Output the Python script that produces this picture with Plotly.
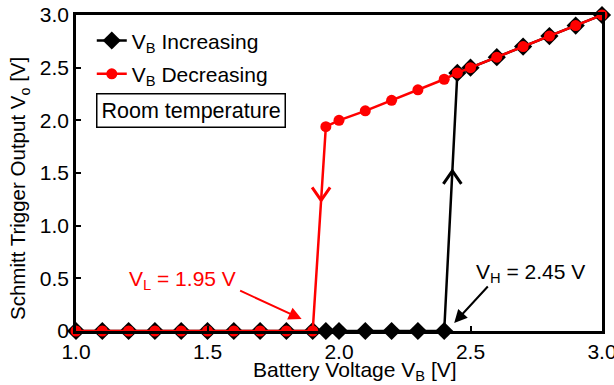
import plotly.graph_objects as go

# Data
inc_x = [1.0, 1.1, 1.2, 1.3, 1.4, 1.5, 1.6, 1.7, 1.8, 1.9, 1.95, 2.0, 2.1, 2.2, 2.3, 2.4,
         2.45, 2.5, 2.6, 2.7, 2.8, 2.9, 3.0]
inc_y = [0, 0, 0, 0, 0, 0, 0, 0, 0, 0, 0, 0, 0, 0, 0, 0,
         2.45, 2.5, 2.6, 2.7, 2.8, 2.9, 3.0]
dec_x = [3.0, 2.9, 2.8, 2.7, 2.6, 2.5, 2.45, 2.4, 2.3, 2.2, 2.1, 2.0, 1.95,
         1.9, 1.8, 1.7, 1.6, 1.5, 1.4, 1.3, 1.2, 1.1, 1.0]
dec_y = [3.0, 2.9, 2.8, 2.7, 2.6, 2.5, 2.45, 2.39, 2.29, 2.19, 2.09, 2.0, 1.94,
         0, 0, 0, 0, 0, 0, 0, 0, 0, 0]

x_ticks = [1.0, 1.5, 2.0, 2.5, 3.0]
x_ticktext = ["1.0", "1.5", "2.0", "2.5", "3.0"]
y_ticks = [0, 0.5, 1.0, 1.5, 2.0, 2.5, 3.0]
y_ticktext = ["0", "0.5", "1.0", "1.5", "2.0", "2.5", "3.0"]

V_L = 1.95
V_H = 2.45

FONT = "Liberation Sans, Arial, sans-serif"
FS = 21

fig = go.Figure()
fig.add_trace(go.Scatter(
    x=inc_x, y=inc_y, mode="lines+markers", name="V<sub>B</sub> Increasing",
    legendgroup="inc",
    line=dict(color="black", width=2.5),
    marker=dict(symbol="diamond", size=14, color="black"),
    cliponaxis=False,
))
fig.add_trace(go.Scatter(
    x=dec_x, y=dec_y, mode="lines+markers", name="V<sub>B</sub> Decreasing",
    legendgroup="dec",
    line=dict(color="#ff0000", width=2.5),
    marker=dict(symbol="circle", size=11, color="#ff0000"),
    cliponaxis=False,
))

# Direction chevrons on the vertical transitions
def chevron(xa, ya, color, up):
    s = 1 if up else -1
    fig.add_shape(type="path", xref="x", yref="y", xsizemode="pixel", ysizemode="pixel",
                  xanchor=xa, yanchor=ya,
                  path=f"M-9,{-s*13} L0,0 L9,{-s*13}",
                  line=dict(color=color, width=3))

ry = 1.24
chevron(1.9 + 0.05 * ry / 1.94, ry, "#ff0000", up=False)
by = 1.52
chevron(2.4 + 0.05 * by / 2.45, by, "black", up=True)

# Annotations
fig.add_annotation(x=1.858, y=0.114, xref="x", yref="y", text="", showarrow=True,
                   ax=-63, ay=-29, arrowhead=2, arrowsize=1.3, arrowwidth=2,
                   arrowcolor="#ff0000", standoff=0)
fig.add_annotation(x=1.406, y=0.484, xref="x", yref="y",
                   text=f"V<sub>L</sub> = {V_L:.2f} V", showarrow=False,
                   font=dict(family=FONT, size=FS, color="#ff0000"))
fig.add_annotation(x=2.438, y=0.076, xref="x", yref="y", text="", showarrow=True,
                   ax=35, ay=-38, arrowhead=2, arrowsize=1.3, arrowwidth=2,
                   arrowcolor="black", standoff=0)
fig.add_annotation(x=2.727, y=0.551, xref="x", yref="y",
                   text=f"V<sub>H</sub> = {V_H:.2f} V", showarrow=False,
                   font=dict(family=FONT, size=FS, color="black"))
fig.add_annotation(x=0.038, y=0.753, xref="paper", yref="paper", text="Room temperature",
                   xanchor="left", yanchor="top",
                   showarrow=False, font=dict(family=FONT, size=21.5, color="black"),
                   bordercolor="black", borderwidth=1.5, borderpad=4, bgcolor="white")
# Axis titles
fig.add_annotation(x=0.531, y=-0.128, xref="paper", yref="paper",
                   text="Battery Voltage V<sub>B</sub> [V]", showarrow=False,
                   xanchor="center", yanchor="middle",
                   font=dict(family=FONT, size=FS, color="black"))
fig.add_annotation(x=-0.108, y=0.45, xref="paper", yref="paper",
                   text="Schmitt Trigger Output V<sub>o</sub> [V]", showarrow=False,
                   xanchor="center", yanchor="middle", textangle=-90,
                   font=dict(family=FONT, size=20.5, color="black"))

fig.update_layout(
    width=614, height=385,
    margin=dict(l=76, r=12, t=15, b=54),
    paper_bgcolor="white", plot_bgcolor="white",
    font=dict(family=FONT, size=FS, color="black"),
    showlegend=True,
    legend=dict(x=0.03, y=0.983, xanchor="left", yanchor="top",
                bgcolor="rgba(0,0,0,0)", font=dict(family=FONT, size=FS),
                tracegroupgap=3, itemwidth=30),
)
fig.update_xaxes(range=[1.0, 3.0], tickvals=x_ticks, ticktext=x_ticktext,
                 ticks="inside", ticklen=5, tickwidth=2, tickcolor="black",
                 showline=True, linecolor="black", linewidth=2.5, mirror=True,
                 showgrid=False, zeroline=False, automargin=False,
                 ticklabeloverflow="allow",
                 tickfont=dict(family=FONT, size=FS))
fig.update_yaxes(range=[0, 3.0], tickvals=y_ticks, ticktext=y_ticktext,
                 ticks="inside", ticklen=5, tickwidth=2, tickcolor="black",
                 showline=True, linecolor="black", linewidth=2.5, mirror=True,
                 showgrid=False, zeroline=False, automargin=False,
                 ticklabeloverflow="allow",
                 tickfont=dict(family=FONT, size=FS))

fig.write_html("out.html", config={"displayModeBar": False},
               post_script="document.body.style.margin='0';document.body.style.overflow='hidden';")
